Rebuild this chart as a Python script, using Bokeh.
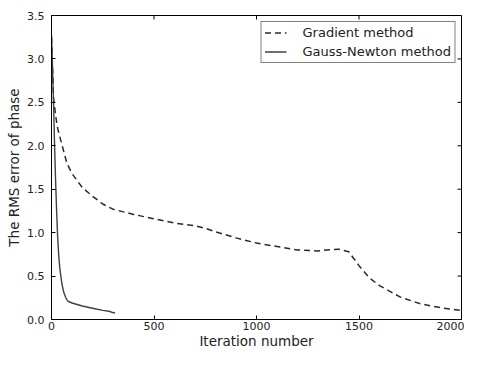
from bokeh.plotting import figure
from bokeh.models import FixedTicker, PrintfTickFormatter, Range1d, Legend, LegendItem
from bokeh.embed import file_html
from bokeh.resources import INLINE

grad_iter = [0, 5, 10, 20, 30, 50, 75, 100, 150, 200, 250, 300, 400, 500, 600, 700, 750,
             800, 900, 1000, 1100, 1200, 1300, 1400, 1450, 1500, 1550, 1600, 1700, 1800, 1900, 2000]
grad_rms = [3.25, 2.9, 2.55, 2.35, 2.2, 2.02, 1.8, 1.68, 1.52, 1.42, 1.33, 1.27, 1.21, 1.16, 1.11, 1.08, 1.05,
            1.01, 0.94, 0.88, 0.84, 0.80, 0.79, 0.81, 0.78, 0.62, 0.48, 0.39, 0.26, 0.18, 0.135, 0.105]

gn_iter = [0, 5, 10, 15, 20, 25, 30, 35, 40, 50, 60, 70, 80, 100, 150, 200, 250, 280, 300, 310]
gn_rms = [3.27, 2.9, 2.5, 2.0, 1.6, 1.25, 0.95, 0.75, 0.6, 0.42, 0.31, 0.25, 0.21, 0.19, 0.155, 0.13, 0.105, 0.095, 0.08, 0.075]

x_min, x_max = 0, 2000
y_min, y_max = 0.0, 3.5
x_ticks = [0, 500, 1000, 1500, 2000]
y_ticks = [0.0, 0.5, 1.0, 1.5, 2.0, 2.5, 3.0, 3.5]

FONT = "DejaVu Sans"
TXT = "#222222"

p = figure(width=464, height=351, output_backend="svg", toolbar_location=None,
           x_range=Range1d(x_min, x_max), y_range=Range1d(y_min, y_max),
           min_border_left=51, min_border_right=3, min_border_top=15, min_border_bottom=0)
p.grid.visible = False
p.outline_line_color = "black"
p.outline_line_width = 1
p.background_fill_color = "white"
p.border_fill_color = "white"

for ax in p.xaxis + p.yaxis:
    ax.major_tick_in = 4
    ax.major_tick_out = 0
    ax.minor_tick_line_color = None
    ax.axis_line_color = "black"
    ax.major_tick_line_color = "black"
    ax.major_label_text_font = FONT
    ax.major_label_text_font_size = "11px"
    ax.major_label_text_color = TXT
    ax.axis_label_text_font = FONT
    ax.axis_label_text_font_size = "13.5px"
    ax.axis_label_text_font_style = "normal"
    ax.axis_label_text_color = TXT

p.xaxis.ticker = FixedTicker(ticks=x_ticks)
p.yaxis.ticker = FixedTicker(ticks=y_ticks)
p.yaxis.formatter = PrintfTickFormatter(format="%.1f")

p.xaxis.axis_label = "Iteration number"
p.xaxis.major_label_standoff = 2
p.xaxis.axis_label_standoff = 0
p.yaxis.axis_label = "The RMS error of phase"
p.yaxis.major_label_standoff = 7
p.yaxis.axis_label_standoff = 2

# inward ticks on the top and right edges of the frame
p.ray(x=x_ticks, y=[y_max] * len(x_ticks), length=4, length_units="screen",
      angle=-90, angle_units="deg", line_color="black", line_width=1)
p.ray(x=[x_max] * len(y_ticks), y=y_ticks, length=4, length_units="screen",
      angle=180, angle_units="deg", line_color="black", line_width=1)

r1 = p.line(grad_iter, grad_rms, line_color="#2a2a2a", line_width=1.5, line_dash="6 4")
r2 = p.line(gn_iter, gn_rms, line_color="#404040", line_width=1.4)

legend = Legend(items=[LegendItem(label="Gradient method", renderers=[r1]),
                       LegendItem(label="Gauss-Newton method", renderers=[r2])],
                location="top_right")
legend.label_text_font = FONT
legend.label_text_font_size = "13px"
legend.label_text_color = TXT
legend.border_line_color = "black"
legend.border_line_width = 1
legend.margin = 6
legend.padding = 3
legend.spacing = 4
legend.glyph_width = 22
legend.glyph_height = 15
legend.label_standoff = 16
legend.label_height = 15
p.add_layout(legend, "center")

open("out.html", "w").write(file_html(p, INLINE))
